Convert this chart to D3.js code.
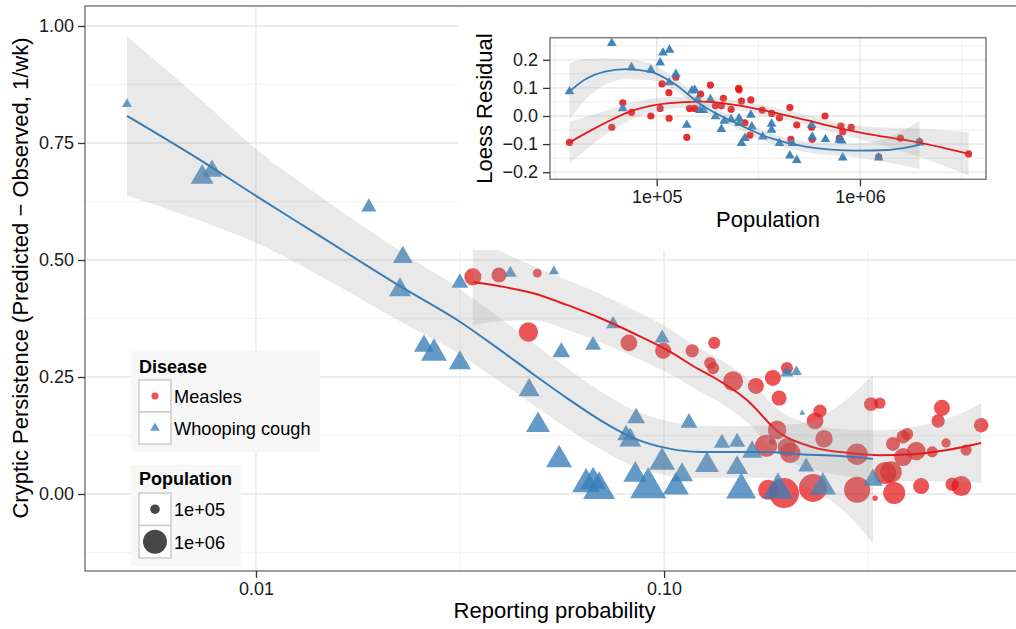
<!DOCTYPE html>
<html>
<head>
<meta charset="utf-8">
<script src="https://cdn.jsdelivr.net/npm/d3@7"></script>
<style>
  html, body { margin: 0; padding: 0; background: #fff; }
  svg { display: block; font-family: "Liberation Sans", Arial, Helvetica, sans-serif; }
</style>
</head>
<body>
<div id="chart"></div>
<script>
// Main panel points: [reporting probability, cryptic persistence, population]
const measlesPoints = [
  [0.0340, 0.464, 3.3e5], [0.0394, 0.468, 2.4e5], [0.0489, 0.472, 9.0e4], [0.0465, 0.346, 4.8e5],
  [0.0820, 0.323, 3.1e5], [0.0995, 0.306, 2.8e5], [0.1172, 0.306, 1.8e5], [0.1327, 0.323, 1.5e5],
  [0.1297, 0.280, 1.5e5], [0.1319, 0.269, 1.5e5], [0.1476, 0.241, 5.3e5], [0.1679, 0.231, 2.8e5],
  [0.1848, 0.248, 2.8e5], [0.2000, 0.269, 1.5e5], [0.1914, 0.205, 2.4e5], [0.2410, 0.177, 1.8e5],
  [0.2344, 0.156, 3.1e5], [0.2466, 0.118, 3.5e5], [0.1892, 0.137, 4.2e5], [0.1778, 0.103, 7.3e5],
  [0.1840, 0.111, 5.6e4], [0.2000, 0.100, 4.2e5], [0.2037, 0.088, 5.8e5], [0.2972, 0.085, 6.6e5],
  [0.3214, 0.192, 2.0e5], [0.3380, 0.194, 1.3e5], [0.3638, 0.107, 2.0e5], [0.3853, 0.122, 1.8e5],
  [0.3942, 0.128, 1.5e5], [0.3853, 0.079, 3.8e5], [0.4150, 0.092, 4.2e5], [0.4539, 0.090, 1.3e5],
  [0.4909, 0.109, 9.7e4], [0.5495, 0.094, 1.3e5], [0.4797, 0.184, 2.8e5], [0.4695, 0.156, 1.8e5],
  [0.5984, 0.147, 2.2e5], [0.1799, 0.009, 5.3e5], [0.1968, 0.002, 2.6e6], [0.2317, 0.013, 1.9e6],
  [0.2972, 0.009, 1.4e6], [0.3483, 0.045, 7.3e5], [0.3600, 0.047, 6.6e5], [0.3664, 0.002, 7.3e5],
  [0.3289, -0.009, 5.1e4], [0.4266, 0.017, 2.8e5], [0.5080, 0.021, 1.8e5], [0.5350, 0.017, 5.3e5]
];

const whoopingPoints = [
  [0.00483, 0.833, 7.1e4], [0.00738, 0.677, 3.3e5], [0.00780, 0.690, 2.3e5], [0.0189, 0.613, 1.3e5],
  [0.0229, 0.506, 2.3e5], [0.02254, 0.436, 2.9e5], [0.0316, 0.451, 1.6e5], [0.0420, 0.472, 1.0e5],
  [0.0537, 0.476, 7.1e4], [0.0258, 0.316, 2.3e5], [0.0273, 0.301, 4.7e5], [0.0316, 0.280, 2.9e5],
  [0.0467, 0.222, 2.6e5], [0.0491, 0.147, 3.7e5], [0.0560, 0.303, 1.8e5], [0.0670, 0.318, 1.45e5],
  [0.0750, 0.363, 1.15e5], [0.0989, 0.333, 1.3e5], [0.0553, 0.073, 4.7e5], [0.0644, 0.021, 6.0e5],
  [0.0670, 0.026, 4.7e5], [0.0693, 0.009, 9.7e5], [0.0854, 0.162, 1.8e5], [0.0807, 0.126, 1.8e5],
  [0.0826, 0.115, 2.9e5], [0.0850, 0.041, 3.7e5], [0.0914, 0.013, 1.55e6], [0.0989, 0.068, 4.7e5],
  [0.1107, 0.041, 2.9e5], [0.1069, 0.015, 4.7e5], [0.1151, 0.152, 1.6e5], [0.1274, 0.062, 3.7e5],
  [0.1386, 0.109, 1.45e5], [0.1510, 0.111, 1.45e5], [0.1510, 0.056, 2.9e5], [0.1545, 0.009, 7.6e5],
  [0.1644, 0.090, 2.3e5], [0.1901, 0.009, 7.6e5], [0.2000, 0.259, 1.0e5], [0.2110, 0.261, 8.0e4],
  [0.2180, 0.173, 4.4e4], [0.2230, 0.058, 1.45e5], [0.2450, 0.015, 4.7e5], [0.3250, 0.030, 2.3e5]
];

// Loess fits: [reporting probability, fit, half-width of confidence band]
const measlesFit = [
  [0.0340, 0.453, 0.092], [0.0396, 0.444, 0.075], [0.0478, 0.429, 0.058], [0.0578, 0.404, 0.053],
  [0.0697, 0.376, 0.052], [0.0839, 0.344, 0.050], [0.1016, 0.308, 0.048], [0.1224, 0.265, 0.046],
  [0.1318, 0.250, 0.046], [0.1596, 0.201, 0.047], [0.1923, 0.130, 0.048], [0.2317, 0.100, 0.048],
  [0.2810, 0.088, 0.050], [0.3380, 0.083, 0.053], [0.4070, 0.085, 0.058], [0.4940, 0.094, 0.067],
  [0.5984, 0.109, 0.085]
];

const whoopingFit = [
  [0.00483, 0.808, 0.170], [0.00729, 0.714, 0.130], [0.0100, 0.637, 0.100], [0.01436, 0.551, 0.085],
  [0.02254, 0.444, 0.075], [0.0316, 0.368, 0.070], [0.0396, 0.308, 0.068], [0.0478, 0.256, 0.066],
  [0.0578, 0.205, 0.064], [0.0697, 0.158, 0.062], [0.0839, 0.120, 0.060], [0.1016, 0.098, 0.058],
  [0.1224, 0.090, 0.056], [0.1476, 0.090, 0.055], [0.1787, 0.090, 0.056], [0.2153, 0.085, 0.065],
  [0.2698, 0.081, 0.110], [0.3250, 0.075, 0.180]
];

// Inset: [population, loess residual]
const measlesResid = [
  [37240, -0.094], [60120, -0.040], [68080, 0.047], [75160, 0.013], [93540, 0.000], [104000, 0.027],
  [106200, 0.114], [114800, 0.083], [115100, -0.008], [124200, 0.138], [140600, -0.076], [145200, 0.027],
  [153800, 0.027], [164400, 0.078], [183700, 0.110], [194500, 0.036], [208000, 0.036], [212800, 0.063],
  [232300, 0.024], [252900, 0.098], [254100, 0.093], [261200, 0.053], [271600, -0.024], [287700, -0.068],
  [290400, 0.057], [330400, 0.021], [368100, 0.009], [401800, -0.006], [451900, 0.030], [457100, -0.083],
  [488700, -0.032], [578100, -0.040], [582100, -0.083], [673000, 0.000], [790700, -0.079], [805400, -0.036],
  [822200, -0.056], [905700, -0.040], [1236000, -0.145], [1581000, -0.079], [1963000, -0.091], [3420000, -0.135]
];

const whoopingResid = [
  [37240, 0.087], [60120, 0.259], [75160, 0.173], [68080, 0.027], [93540, 0.164], [104000, 0.190],
  [107400, 0.225], [115600, 0.235], [115100, 0.119], [124200, 0.149], [140600, -0.032], [148900, 0.090],
  [153800, 0.093], [158900, 0.059], [163300, 0.021], [169800, 0.021], [183700, 0.059], [194500, -0.002],
  [208000, -0.047], [214800, -0.018], [232300, -0.012], [254100, -0.008], [254100, -0.026], [261200, -0.097],
  [271600, -0.079], [290400, 0.004], [293800, -0.038], [332700, -0.074], [367300, -0.028], [367300, -0.050],
  [401800, -0.097], [451900, -0.141], [464500, -0.097], [488700, -0.157], [578100, -0.032], [582100, -0.074],
  [676100, -0.083], [790700, -0.085], [812800, -0.088], [822200, -0.148], [1236000, -0.148], [1963000, -0.095]
];

// Inset loess fits: [population, fit, half-width]
const measlesResidFit = [
  [37240, -0.094, 0.075], [51400, -0.038, 0.048], [76030, 0.019, 0.030], [112500, 0.045, 0.022],
  [166300, 0.051, 0.018], [246000, 0.039, 0.017], [363900, 0.015, 0.017], [538300, -0.014, 0.018],
  [796200, -0.044, 0.020], [1178000, -0.068, 0.028], [1742000, -0.088, 0.045], [3420000, -0.135, 0.077]
];

const whoopingResidFit = [
  [37240, 0.087, 0.100], [43950, 0.128, 0.075], [55590, 0.158, 0.047], [70310, 0.167, 0.036],
  [92470, 0.158, 0.030], [121600, 0.116, 0.022], [166300, 0.039, 0.018], [246000, -0.026, 0.018],
  [363900, -0.079, 0.018], [538300, -0.109, 0.019], [968300, -0.123, 0.025], [1377000, -0.121, 0.045],
  [1963000, -0.103, 0.085]
];

// Ticks and labels
const mainXTicks = [0.01, 0.1];
const mainXTickLabels = ['0.01', '0.10'];
const mainXMinor = [0.0316, 0.316];
const mainYTicks = [0, 0.25, 0.5, 0.75, 1];
const mainYMinor = [-0.125, 0.125, 0.375, 0.625, 0.875];
const insetXTicks = [1e5, 1e6];
const insetXTickLabels = ['1e+05', '1e+06'];
const insetXMinor = [31623, 316228, 3162278];
const insetYTicks = [-0.2, -0.1, 0, 0.1, 0.2];
const insetYMinor = [-0.15, -0.05, 0.05, 0.15, 0.25];
const diseases = ['Measles', 'Whooping cough'];
const popBreaks = [1e5, 1e6];
const popBreakLabels = ['1e+05', '1e+06'];

const colors = { 'Measles': '#E41A1C', 'Whooping cough': '#377EB8' };

const W = 1016, H = 629;
const svg = d3.select('#chart').append('svg')
  .attr('width', W).attr('height', H);

svg.append('rect').attr('width', W).attr('height', H).attr('fill', '#fff');

// ---- main panel ----
const mp = { left: 85, top: 6, right: 1024, bottom: 571 };
const x = d3.scaleLog().domain([Math.pow(10, -2.419), Math.pow(10, -0.118)]).range([mp.left, mp.right]);
const y = d3.scaleLinear().domain([-0.1645, 1.0427]).range([mp.bottom, mp.top]);
const rScale = d3.scaleLog().domain([1e5, 1e6]).range([4.8, 12]);
const rad = p => Math.max(1.2, rScale(p));

svg.append('clipPath').attr('id', 'mainClip').append('rect')
  .attr('x', mp.left).attr('y', mp.top).attr('width', mp.right - mp.left).attr('height', mp.bottom - mp.top);

const gMain = svg.append('g').attr('clip-path', 'url(#mainClip)');

function drawGrid(g, xs, ys, xMinor, xMajor, yMinor, yMajor, box) {
  g.selectAll(null).data(yMinor).enter().append('line')
    .attr('x1', box.left).attr('x2', box.right).attr('y1', d => ys(d)).attr('y2', d => ys(d))
    .attr('stroke', '#f4f4f4').attr('stroke-width', 1.5);
  g.selectAll(null).data(xMinor).enter().append('line')
    .attr('y1', box.top).attr('y2', box.bottom).attr('x1', d => xs(d)).attr('x2', d => xs(d))
    .attr('stroke', '#f4f4f4').attr('stroke-width', 1.5);
  g.selectAll(null).data(yMajor).enter().append('line')
    .attr('x1', box.left).attr('x2', box.right).attr('y1', d => ys(d)).attr('y2', d => ys(d))
    .attr('stroke', '#e6e6e6').attr('stroke-width', 1.3);
  g.selectAll(null).data(xMajor).enter().append('line')
    .attr('y1', box.top).attr('y2', box.bottom).attr('x1', d => xs(d)).attr('x2', d => xs(d))
    .attr('stroke', '#e6e6e6').attr('stroke-width', 1.3);
}

drawGrid(gMain, x, y, mainXMinor, mainXTicks, mainYMinor, mainYTicks, mp);

// points
gMain.selectAll('.m-pt').data(measlesPoints).enter().append('circle')
  .attr('class', 'm-pt')
  .attr('cx', d => x(d[0])).attr('cy', d => y(d[1])).attr('r', d => rad(d[2]))
  .attr('fill', colors['Measles']).attr('fill-opacity', 0.75);

gMain.selectAll('.w-pt').data(whoopingPoints).enter().append('path')
  .attr('class', 'w-pt')
  .attr('transform', d => `translate(${x(d[0])},${y(d[1])})`)
  .attr('d', d => d3.symbol().type(d3.symbolTriangle).size(Math.PI * rad(d[2]) * rad(d[2]))())
  .attr('fill', colors['Whooping cough']).attr('fill-opacity', 0.78);

// smooths
function drawSmooth(g, xs, ys, fit, color, width) {
  const band = d3.area()
    .x(d => xs(d[0])).y0(d => ys(d[1] - d[2])).y1(d => ys(d[1] + d[2]))
    .curve(d3.curveMonotoneX);
  const line = d3.line().x(d => xs(d[0])).y(d => ys(d[1])).curve(d3.curveMonotoneX);
  g.append('path').datum(fit).attr('d', band).attr('fill', '#999').attr('fill-opacity', 0.22);
  g.append('path').datum(fit).attr('d', line).attr('fill', 'none')
    .attr('stroke', color).attr('stroke-width', width);
}

drawSmooth(gMain, x, y, measlesFit, colors['Measles'], 2);
drawSmooth(gMain, x, y, whoopingFit, colors['Whooping cough'], 2);

// border
svg.append('rect').attr('x', mp.left).attr('y', mp.top)
  .attr('width', mp.right - mp.left).attr('height', mp.bottom - mp.top)
  .attr('fill', 'none').attr('stroke', '#7f7f7f').attr('stroke-width', 1.5);

// axes
const xAxis = svg.append('g').attr('transform', `translate(0,${mp.bottom})`)
  .call(d3.axisBottom(x).tickValues(mainXTicks).tickFormat((d, i) => mainXTickLabels[i]).tickSize(7).tickPadding(4));
const yAxis = svg.append('g').attr('transform', `translate(${mp.left},0)`)
  .call(d3.axisLeft(y).tickValues(mainYTicks).tickFormat(d3.format('.2f')).tickSize(7).tickPadding(4));
[xAxis, yAxis].forEach(a => {
  a.select('.domain').remove();
  a.selectAll('line').attr('stroke', '#333').attr('stroke-width', 1.3);
  a.selectAll('text').attr('fill', '#1a1a1a').style('font-size', '18px');
});

svg.append('text').attr('x', (mp.left + mp.right) / 2).attr('y', 618)
  .attr('text-anchor', 'middle').style('font-size', '22px').attr('fill', '#000')
  .text('Reporting probability');

svg.append('text').attr('transform', 'translate(28,278) rotate(-90)')
  .attr('text-anchor', 'middle').style('font-size', '22px').attr('fill', '#000')
  .text('Cryptic Persistence (Predicted \u2212 Observed, 1/wk)');

// ---- legends ----
const lg = svg.append('g');
lg.append('rect').attr('x', 131).attr('y', 351).attr('width', 189).attr('height', 101).attr('fill', '#f7f7f7');
lg.append('text').attr('x', 139).attr('y', 373).style('font-size', '18px').style('font-weight', 'bold').text('Disease');
diseases.forEach((dz, i) => {
  const ky = 380 + i * 32;
  lg.append('rect').attr('x', 139).attr('y', ky).attr('width', 32).attr('height', 32)
    .attr('fill', '#fff').attr('stroke', '#cccccc').attr('stroke-width', 1.5);
  if (i === 0) {
    lg.append('circle').attr('cx', 155).attr('cy', ky + 16).attr('r', 3.6)
      .attr('fill', colors[dz]).attr('fill-opacity', 0.75);
  } else {
    lg.append('path').attr('transform', `translate(155,${ky + 16})`)
      .attr('d', d3.symbol().type(d3.symbolTriangle).size(Math.PI * 3.6 * 3.6)())
      .attr('fill', colors[dz]).attr('fill-opacity', 0.78);
  }
  lg.append('text').attr('x', 174).attr('y', ky + 23).style('font-size', '18.2px').text(dz);
});

lg.append('rect').attr('x', 131).attr('y', 465).attr('width', 110).attr('height', 101).attr('fill', '#f7f7f7');
lg.append('text').attr('x', 139).attr('y', 485).style('font-size', '18px').style('font-weight', 'bold').text('Population');
popBreaks.forEach((p, i) => {
  const ky = 493 + i * 32.5;
  lg.append('rect').attr('x', 139).attr('y', ky).attr('width', 32).attr('height', 32.5)
    .attr('fill', '#fff').attr('stroke', '#cccccc').attr('stroke-width', 1.5);
  lg.append('circle').attr('cx', 155).attr('cy', ky + 16.2).attr('r', rad(p))
    .attr('fill', '#333').attr('fill-opacity', 0.9);
  lg.append('text').attr('x', 174).attr('y', ky + 23).style('font-size', '18.2px').text(popBreakLabels[i]);
});

// ---- inset ----
svg.append('rect').attr('x', 458).attr('y', 8).attr('width', W - 458).attr('height', 242).attr('fill', '#fff');

const ip = { left: 550, top: 37.7, right: 986, bottom: 179.3 };
const ix = d3.scaleLog().domain([Math.pow(10, 4.475), Math.pow(10, 6.620)]).range([ip.left, ip.right]);
const iy = d3.scaleLinear().domain([-0.2253, 0.2786]).range([ip.bottom, ip.top]);

svg.append('clipPath').attr('id', 'insetClip').append('rect')
  .attr('x', ip.left).attr('y', ip.top).attr('width', ip.right - ip.left).attr('height', ip.bottom - ip.top);
const gIn = svg.append('g').attr('clip-path', 'url(#insetClip)');

drawGrid(gIn, ix, iy, insetXMinor, insetXTicks, insetYMinor, insetYTicks, ip);

gIn.selectAll('.mi-pt').data(measlesResid).enter().append('circle')
  .attr('cx', d => ix(d[0])).attr('cy', d => iy(d[1])).attr('r', 3.6)
  .attr('fill', colors['Measles']).attr('fill-opacity', 0.9);
gIn.selectAll('.wi-pt').data(whoopingResid).enter().append('path')
  .attr('transform', d => `translate(${ix(d[0])},${iy(d[1])})`)
  .attr('d', d3.symbol().type(d3.symbolTriangle).size(Math.PI * 3.6 * 3.6)())
  .attr('fill', colors['Whooping cough']).attr('fill-opacity', 0.95);

drawSmooth(gIn, ix, iy, measlesResidFit, colors['Measles'], 1.8);
drawSmooth(gIn, ix, iy, whoopingResidFit, colors['Whooping cough'], 1.8);

svg.append('rect').attr('x', ip.left).attr('y', ip.top)
  .attr('width', ip.right - ip.left).attr('height', ip.bottom - ip.top)
  .attr('fill', 'none').attr('stroke', '#7f7f7f').attr('stroke-width', 1.5);

const ixAxis = svg.append('g').attr('transform', `translate(0,${ip.bottom})`)
  .call(d3.axisBottom(ix).tickValues(insetXTicks).tickFormat((d, i) => insetXTickLabels[i]).tickSize(7).tickPadding(4));
const iyAxis = svg.append('g').attr('transform', `translate(${ip.left},0)`)
  .call(d3.axisLeft(iy).tickValues(insetYTicks).tickFormat(d3.format('.1f')).tickSize(7).tickPadding(5));
[ixAxis, iyAxis].forEach(a => {
  a.select('.domain').remove();
  a.selectAll('line').attr('stroke', '#333').attr('stroke-width', 1.3);
  a.selectAll('text').attr('fill', '#1a1a1a').style('font-size', '18px');
});

svg.append('text').attr('x', (ip.left + ip.right) / 2).attr('y', 227)
  .attr('text-anchor', 'middle').style('font-size', '22px').attr('fill', '#000')
  .text('Population');
svg.append('text').attr('transform', `translate(492,${(ip.top + ip.bottom) / 2}) rotate(-90)`)
  .attr('text-anchor', 'middle').style('font-size', '22px').attr('fill', '#000')
  .text('Loess Residual');
</script>
</body>
</html>
